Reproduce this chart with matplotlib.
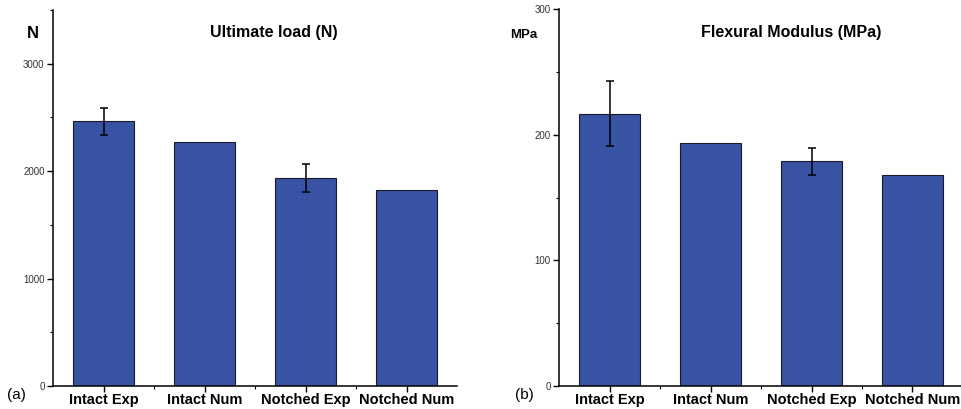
import matplotlib.pyplot as plt
from matplotlib.ticker import MultipleLocator
import numpy as np

plt.rcParams['font.family'] = ['Liberation Sans', 'DejaVu Sans']

categories = ['Intact Exp', 'Intact Num', 'Notched Exp', 'Notched Num']
load_vals = [2465, 2272, 1940, 1823]
load_err = [125, 0, 130, 0]
modulus_vals = [217, 193.7, 179, 167.7]
modulus_err = [26, 0, 10.8, 0]

bar_color = '#3853a4'

fig = plt.figure(figsize=(9.61, 4.09), dpi=100)
ax1 = fig.add_axes([53 / 961, 1 - 386 / 409, 404 / 961, 376 / 409])
ax2 = fig.add_axes([559 / 961, 1 - 386 / 409, 404 / 961, 376.7 / 409])


def draw(ax, vals, errs, ymax, major, minor):
    x = np.arange(len(categories))
    yerr = [e if e > 0 else np.nan for e in errs]
    ax.bar(x, vals, width=0.6, color=bar_color, edgecolor='#1a1a2a', linewidth=0.8)
    ax.errorbar(x, vals, yerr=yerr, fmt='none', ecolor='black', elinewidth=1.1,
                capsize=3, capthick=1.1)
    ax.set_xlim(-0.5, 3.5)
    ax.set_ylim(0, ymax)
    ax.yaxis.set_major_locator(MultipleLocator(major))
    ax.yaxis.set_minor_locator(MultipleLocator(minor))
    ax.set_xticks(x)
    ax.set_xticks(x[:-1] + 0.5, minor=True)
    ax.set_xticklabels(categories, fontsize=10.5, fontweight='bold')
    for lbl in ax.get_yticklabels():
        lbl.set_fontsize(7)
        lbl.set_color('#333333')
    ax.spines['top'].set_visible(False)
    ax.spines['right'].set_visible(False)
    ax.spines['left'].set_linewidth(1.1)
    ax.spines['bottom'].set_linewidth(1.1)
    ax.tick_params(which='major', length=4, width=1, pad=2)
    ax.tick_params(which='minor', length=2.5, width=0.8)
    ax.tick_params(axis='x', which='major', pad=1)


draw(ax1, load_vals, load_err, 3500, 1000, 500)
draw(ax2, modulus_vals, modulus_err, 300, 100, 50)

fig.text(33 / 961, 1 - 34 / 409, 'N', fontsize=12, fontweight='bold', ha='center', va='center')
fig.text(274 / 961, 1 - 33 / 409, 'Ultimate load (N)', fontsize=11.5, fontweight='bold',
         ha='center', va='center')
fig.text(16 / 961, 1 - 395 / 409, '(a)', fontsize=11, ha='center', va='center')

fig.text(524 / 961, 1 - 35 / 409, 'MPa', fontsize=9.5, fontweight='bold', ha='center', va='center')
fig.text(791 / 961, 1 - 33 / 409, 'Flexural Modulus (MPa)', fontsize=11.5, fontweight='bold',
         ha='center', va='center')
fig.text(524 / 961, 1 - 395 / 409, '(b)', fontsize=11, ha='center', va='center')

fig.savefig('out.png', dpi=100)
